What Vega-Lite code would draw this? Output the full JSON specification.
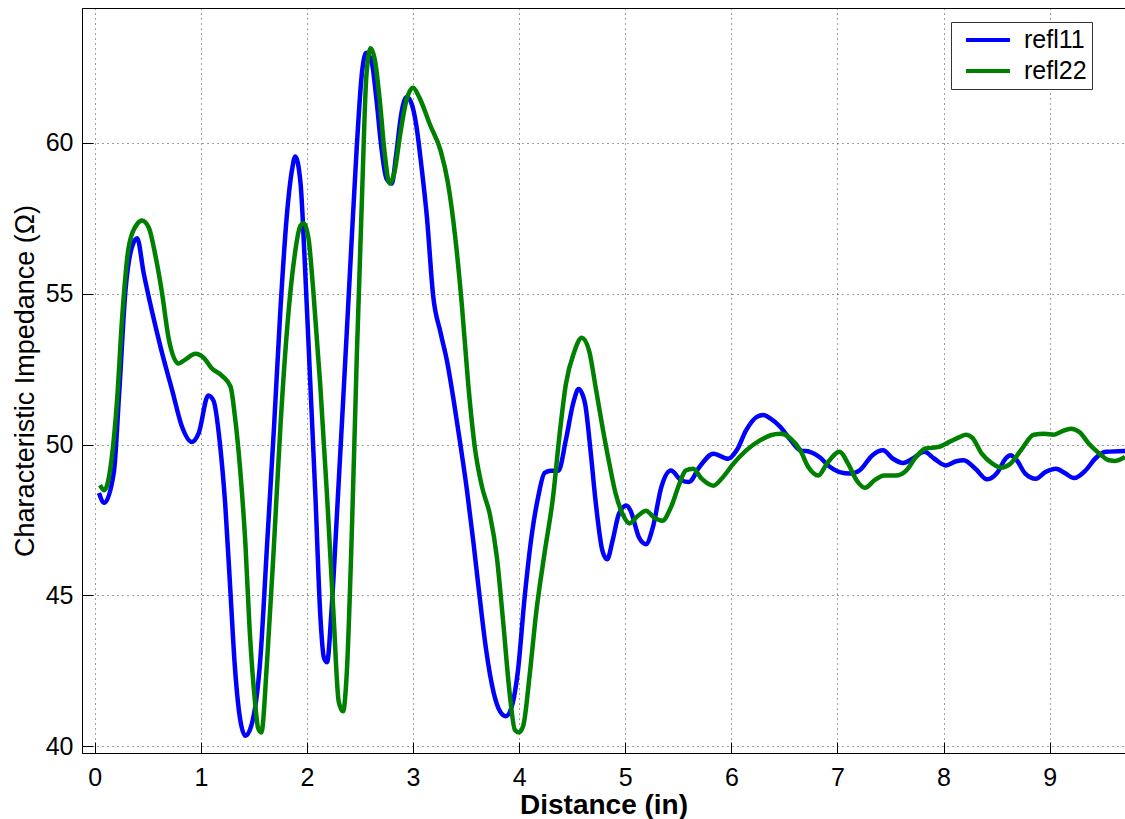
{
  "$schema": "https://vega.github.io/schema/vega-lite/v6.json",
  "width": 1043,
  "height": 745,
  "autosize": {"type": "none"},
  "padding": {"left": 82, "top": 8, "right": 0, "bottom": 66},
  "background": "white",
  "config": {
    "view": {"stroke": "#000", "strokeWidth": 1},
    "font": "Liberation Sans",
    "axis": {
      "domainColor": "#000",
      "tickColor": "#000",
      "gridColor": "#000",
      "gridDash": [1, 4],
      "gridOpacity": 0.75,
      "gridWidth": 1,
      "labelColor": "#000",
      "titleColor": "#000",
      "labelFont": "Liberation Sans",
      "titleFont": "Liberation Sans",
      "labelFontSize": 25,
      "tickSize": -11,
      "tickWidth": 1
    }
  },
  "data": {
    "values": [
      {"d": 0.04, "z": 48.4, "s": "refl11"},
      {"d": 0.09, "z": 48.07, "s": "refl11"},
      {"d": 0.18, "z": 49.08, "s": "refl11"},
      {"d": 0.23, "z": 51.68, "s": "refl11"},
      {"d": 0.29, "z": 55.12, "s": "refl11"},
      {"d": 0.35, "z": 56.54, "s": "refl11"},
      {"d": 0.4, "z": 56.84, "s": "refl11"},
      {"d": 0.46, "z": 55.71, "s": "refl11"},
      {"d": 0.54, "z": 54.41, "s": "refl11"},
      {"d": 0.63, "z": 53.1, "s": "refl11"},
      {"d": 0.73, "z": 51.8, "s": "refl11"},
      {"d": 0.82, "z": 50.62, "s": "refl11"},
      {"d": 0.915, "z": 50.09, "s": "refl11"},
      {"d": 0.98, "z": 50.38, "s": "refl11"},
      {"d": 1.07, "z": 51.63, "s": "refl11"},
      {"d": 1.12, "z": 51.45, "s": "refl11"},
      {"d": 1.18, "z": 50.03, "s": "refl11"},
      {"d": 1.23, "z": 48.01, "s": "refl11"},
      {"d": 1.28, "z": 45.05, "s": "refl11"},
      {"d": 1.32, "z": 42.68, "s": "refl11"},
      {"d": 1.37, "z": 40.91, "s": "refl11"},
      {"d": 1.42, "z": 40.35, "s": "refl11"},
      {"d": 1.47, "z": 40.62, "s": "refl11"},
      {"d": 1.56, "z": 42.86, "s": "refl11"},
      {"d": 1.625, "z": 46.73, "s": "refl11"},
      {"d": 1.69, "z": 50.6, "s": "refl11"},
      {"d": 1.75, "z": 54.47, "s": "refl11"},
      {"d": 1.81, "z": 57.57, "s": "refl11"},
      {"d": 1.86, "z": 59.12, "s": "refl11"},
      {"d": 1.89, "z": 59.55, "s": "refl11"},
      {"d": 1.94, "z": 58.65, "s": "refl11"},
      {"d": 1.98, "z": 56.02, "s": "refl11"},
      {"d": 2.03, "z": 52.15, "s": "refl11"},
      {"d": 2.08, "z": 48.28, "s": "refl11"},
      {"d": 2.125, "z": 44.41, "s": "refl11"},
      {"d": 2.16, "z": 42.94, "s": "refl11"},
      {"d": 2.19, "z": 42.79, "s": "refl11"},
      {"d": 2.23, "z": 44.41, "s": "refl11"},
      {"d": 2.28, "z": 47.51, "s": "refl11"},
      {"d": 2.34, "z": 51.38, "s": "refl11"},
      {"d": 2.41, "z": 56.02, "s": "refl11"},
      {"d": 2.47, "z": 59.89, "s": "refl11"},
      {"d": 2.52, "z": 62.37, "s": "refl11"},
      {"d": 2.56, "z": 62.99, "s": "refl11"},
      {"d": 2.61, "z": 62.68, "s": "refl11"},
      {"d": 2.66, "z": 61.28, "s": "refl11"},
      {"d": 2.7, "z": 59.89, "s": "refl11"},
      {"d": 2.75, "z": 58.81, "s": "refl11"},
      {"d": 2.8, "z": 58.65, "s": "refl11"},
      {"d": 2.84, "z": 59.58, "s": "refl11"},
      {"d": 2.89, "z": 60.98, "s": "refl11"},
      {"d": 2.94, "z": 61.52, "s": "refl11"},
      {"d": 2.98, "z": 61.36, "s": "refl11"},
      {"d": 3.03, "z": 60.6, "s": "refl11"},
      {"d": 3.08, "z": 59.2, "s": "refl11"},
      {"d": 3.13, "z": 57.57, "s": "refl11"},
      {"d": 3.19, "z": 54.92, "s": "refl11"},
      {"d": 3.26, "z": 53.7, "s": "refl11"},
      {"d": 3.32, "z": 52.77, "s": "refl11"},
      {"d": 3.38, "z": 51.53, "s": "refl11"},
      {"d": 3.44, "z": 50.15, "s": "refl11"},
      {"d": 3.51, "z": 48.44, "s": "refl11"},
      {"d": 3.57, "z": 46.73, "s": "refl11"},
      {"d": 3.63, "z": 44.88, "s": "refl11"},
      {"d": 3.69, "z": 43.17, "s": "refl11"},
      {"d": 3.76, "z": 41.78, "s": "refl11"},
      {"d": 3.82, "z": 41.16, "s": "refl11"},
      {"d": 3.875, "z": 41.0, "s": "refl11"},
      {"d": 3.93, "z": 41.32, "s": "refl11"},
      {"d": 3.99, "z": 42.55, "s": "refl11"},
      {"d": 4.05, "z": 44.88, "s": "refl11"},
      {"d": 4.12, "z": 47.04, "s": "refl11"},
      {"d": 4.18, "z": 48.28, "s": "refl11"},
      {"d": 4.24, "z": 49.06, "s": "refl11"},
      {"d": 4.3, "z": 49.13, "s": "refl11"},
      {"d": 4.37, "z": 49.13, "s": "refl11"},
      {"d": 4.44, "z": 50.15, "s": "refl11"},
      {"d": 4.51, "z": 51.38, "s": "refl11"},
      {"d": 4.56, "z": 51.84, "s": "refl11"},
      {"d": 4.62, "z": 51.38, "s": "refl11"},
      {"d": 4.67, "z": 49.9, "s": "refl11"},
      {"d": 4.72, "z": 48.14, "s": "refl11"},
      {"d": 4.785, "z": 46.48, "s": "refl11"},
      {"d": 4.83, "z": 46.2, "s": "refl11"},
      {"d": 4.88, "z": 46.81, "s": "refl11"},
      {"d": 4.94, "z": 47.7, "s": "refl11"},
      {"d": 5.01, "z": 47.98, "s": "refl11"},
      {"d": 5.05, "z": 47.81, "s": "refl11"},
      {"d": 5.13, "z": 46.92, "s": "refl11"},
      {"d": 5.195, "z": 46.7, "s": "refl11"},
      {"d": 5.26, "z": 47.26, "s": "refl11"},
      {"d": 5.34, "z": 48.59, "s": "refl11"},
      {"d": 5.43, "z": 49.14, "s": "refl11"},
      {"d": 5.53, "z": 48.81, "s": "refl11"},
      {"d": 5.6, "z": 48.76, "s": "refl11"},
      {"d": 5.7, "z": 49.26, "s": "refl11"},
      {"d": 5.83, "z": 49.7, "s": "refl11"},
      {"d": 5.97, "z": 49.53, "s": "refl11"},
      {"d": 6.05, "z": 49.81, "s": "refl11"},
      {"d": 6.14, "z": 50.48, "s": "refl11"},
      {"d": 6.24, "z": 50.92, "s": "refl11"},
      {"d": 6.3, "z": 50.98, "s": "refl11"},
      {"d": 6.37, "z": 50.86, "s": "refl11"},
      {"d": 6.46, "z": 50.59, "s": "refl11"},
      {"d": 6.56, "z": 50.14, "s": "refl11"},
      {"d": 6.65, "z": 49.81, "s": "refl11"},
      {"d": 6.74, "z": 49.76, "s": "refl11"},
      {"d": 6.83, "z": 49.59, "s": "refl11"},
      {"d": 6.93, "z": 49.26, "s": "refl11"},
      {"d": 7.02, "z": 49.09, "s": "refl11"},
      {"d": 7.12, "z": 49.04, "s": "refl11"},
      {"d": 7.21, "z": 49.15, "s": "refl11"},
      {"d": 7.33, "z": 49.65, "s": "refl11"},
      {"d": 7.43, "z": 49.81, "s": "refl11"},
      {"d": 7.52, "z": 49.54, "s": "refl11"},
      {"d": 7.62, "z": 49.39, "s": "refl11"},
      {"d": 7.71, "z": 49.54, "s": "refl11"},
      {"d": 7.82, "z": 49.76, "s": "refl11"},
      {"d": 7.91, "z": 49.54, "s": "refl11"},
      {"d": 8.02, "z": 49.31, "s": "refl11"},
      {"d": 8.12, "z": 49.45, "s": "refl11"},
      {"d": 8.19, "z": 49.48, "s": "refl11"},
      {"d": 8.3, "z": 49.2, "s": "refl11"},
      {"d": 8.41, "z": 48.85, "s": "refl11"},
      {"d": 8.51, "z": 49.09, "s": "refl11"},
      {"d": 8.585, "z": 49.54, "s": "refl11"},
      {"d": 8.63, "z": 49.65, "s": "refl11"},
      {"d": 8.69, "z": 49.48, "s": "refl11"},
      {"d": 8.77, "z": 49.04, "s": "refl11"},
      {"d": 8.87, "z": 48.87, "s": "refl11"},
      {"d": 8.96, "z": 49.09, "s": "refl11"},
      {"d": 9.06, "z": 49.2, "s": "refl11"},
      {"d": 9.15, "z": 49.04, "s": "refl11"},
      {"d": 9.23, "z": 48.89, "s": "refl11"},
      {"d": 9.34, "z": 49.15, "s": "refl11"},
      {"d": 9.43, "z": 49.54, "s": "refl11"},
      {"d": 9.53, "z": 49.76, "s": "refl11"},
      {"d": 9.71, "z": 49.79, "s": "refl11"},
      {"d": 0.05, "z": 48.66, "s": "refl22"},
      {"d": 0.09, "z": 48.49, "s": "refl22"},
      {"d": 0.16, "z": 49.55, "s": "refl22"},
      {"d": 0.21, "z": 51.45, "s": "refl22"},
      {"d": 0.26, "z": 54.29, "s": "refl22"},
      {"d": 0.32, "z": 56.54, "s": "refl22"},
      {"d": 0.4, "z": 57.31, "s": "refl22"},
      {"d": 0.445, "z": 57.43, "s": "refl22"},
      {"d": 0.51, "z": 57.19, "s": "refl22"},
      {"d": 0.57, "z": 56.3, "s": "refl22"},
      {"d": 0.63, "z": 55.12, "s": "refl22"},
      {"d": 0.7, "z": 53.46, "s": "refl22"},
      {"d": 0.79, "z": 52.69, "s": "refl22"},
      {"d": 0.85, "z": 52.81, "s": "refl22"},
      {"d": 0.95, "z": 53.01, "s": "refl22"},
      {"d": 1.03, "z": 52.87, "s": "refl22"},
      {"d": 1.1, "z": 52.54, "s": "refl22"},
      {"d": 1.2, "z": 52.28, "s": "refl22"},
      {"d": 1.28, "z": 51.92, "s": "refl22"},
      {"d": 1.32, "z": 50.97, "s": "refl22"},
      {"d": 1.37, "z": 49.2, "s": "refl22"},
      {"d": 1.42, "z": 46.71, "s": "refl22"},
      {"d": 1.46, "z": 43.87, "s": "refl22"},
      {"d": 1.51, "z": 41.5, "s": "refl22"},
      {"d": 1.54, "z": 40.6, "s": "refl22"},
      {"d": 1.57, "z": 40.46, "s": "refl22"},
      {"d": 1.625, "z": 42.86, "s": "refl22"},
      {"d": 1.69, "z": 46.73, "s": "refl22"},
      {"d": 1.75, "z": 50.6, "s": "refl22"},
      {"d": 1.81, "z": 53.7, "s": "refl22"},
      {"d": 1.875, "z": 56.02, "s": "refl22"},
      {"d": 1.94, "z": 57.26, "s": "refl22"},
      {"d": 1.97, "z": 57.34, "s": "refl22"},
      {"d": 2.016, "z": 56.8, "s": "refl22"},
      {"d": 2.06, "z": 55.09, "s": "refl22"},
      {"d": 2.125, "z": 52.0, "s": "refl22"},
      {"d": 2.19, "z": 48.28, "s": "refl22"},
      {"d": 2.25, "z": 44.41, "s": "refl22"},
      {"d": 2.3, "z": 41.47, "s": "refl22"},
      {"d": 2.34, "z": 41.16, "s": "refl22"},
      {"d": 2.375, "z": 42.4, "s": "refl22"},
      {"d": 2.42, "z": 46.73, "s": "refl22"},
      {"d": 2.47, "z": 52.93, "s": "refl22"},
      {"d": 2.52, "z": 58.34, "s": "refl22"},
      {"d": 2.56, "z": 62.21, "s": "refl22"},
      {"d": 2.6, "z": 63.14, "s": "refl22"},
      {"d": 2.64, "z": 62.76, "s": "refl22"},
      {"d": 2.69, "z": 61.28, "s": "refl22"},
      {"d": 2.73, "z": 59.74, "s": "refl22"},
      {"d": 2.78, "z": 58.65, "s": "refl22"},
      {"d": 2.83, "z": 59.12, "s": "refl22"},
      {"d": 2.875, "z": 60.2, "s": "refl22"},
      {"d": 2.94, "z": 61.44, "s": "refl22"},
      {"d": 3.0, "z": 61.83, "s": "refl22"},
      {"d": 3.06, "z": 61.5, "s": "refl22"},
      {"d": 3.16, "z": 60.6, "s": "refl22"},
      {"d": 3.26, "z": 59.74, "s": "refl22"},
      {"d": 3.33, "z": 58.65, "s": "refl22"},
      {"d": 3.4, "z": 56.8, "s": "refl22"},
      {"d": 3.46, "z": 54.63, "s": "refl22"},
      {"d": 3.52, "z": 52.0, "s": "refl22"},
      {"d": 3.585, "z": 49.84, "s": "refl22"},
      {"d": 3.65, "z": 48.6, "s": "refl22"},
      {"d": 3.725, "z": 47.67, "s": "refl22"},
      {"d": 3.79, "z": 46.27, "s": "refl22"},
      {"d": 3.85, "z": 44.1, "s": "refl22"},
      {"d": 3.91, "z": 41.78, "s": "refl22"},
      {"d": 3.96, "z": 40.54, "s": "refl22"},
      {"d": 4.0, "z": 40.46, "s": "refl22"},
      {"d": 4.04, "z": 40.7, "s": "refl22"},
      {"d": 4.1, "z": 42.4, "s": "refl22"},
      {"d": 4.16, "z": 44.41, "s": "refl22"},
      {"d": 4.24, "z": 46.42, "s": "refl22"},
      {"d": 4.32, "z": 48.28, "s": "refl22"},
      {"d": 4.38, "z": 50.3, "s": "refl22"},
      {"d": 4.44, "z": 52.0, "s": "refl22"},
      {"d": 4.52, "z": 53.08, "s": "refl22"},
      {"d": 4.59, "z": 53.54, "s": "refl22"},
      {"d": 4.66, "z": 53.1, "s": "refl22"},
      {"d": 4.72, "z": 51.92, "s": "refl22"},
      {"d": 4.785, "z": 50.59, "s": "refl22"},
      {"d": 4.85, "z": 49.37, "s": "refl22"},
      {"d": 4.91, "z": 48.37, "s": "refl22"},
      {"d": 4.975, "z": 47.7, "s": "refl22"},
      {"d": 5.04, "z": 47.39, "s": "refl22"},
      {"d": 5.12, "z": 47.64, "s": "refl22"},
      {"d": 5.195, "z": 47.81, "s": "refl22"},
      {"d": 5.27, "z": 47.59, "s": "refl22"},
      {"d": 5.35, "z": 47.48, "s": "refl22"},
      {"d": 5.43, "z": 47.92, "s": "refl22"},
      {"d": 5.51, "z": 48.7, "s": "refl22"},
      {"d": 5.57, "z": 49.14, "s": "refl22"},
      {"d": 5.64, "z": 49.2, "s": "refl22"},
      {"d": 5.72, "z": 48.87, "s": "refl22"},
      {"d": 5.83, "z": 48.64, "s": "refl22"},
      {"d": 5.92, "z": 48.92, "s": "refl22"},
      {"d": 6.02, "z": 49.37, "s": "refl22"},
      {"d": 6.14, "z": 49.81, "s": "refl22"},
      {"d": 6.27, "z": 50.14, "s": "refl22"},
      {"d": 6.37, "z": 50.31, "s": "refl22"},
      {"d": 6.46, "z": 50.36, "s": "refl22"},
      {"d": 6.56, "z": 50.2, "s": "refl22"},
      {"d": 6.65, "z": 49.81, "s": "refl22"},
      {"d": 6.725, "z": 49.26, "s": "refl22"},
      {"d": 6.82, "z": 48.98, "s": "refl22"},
      {"d": 6.9, "z": 49.37, "s": "refl22"},
      {"d": 7.02, "z": 49.76, "s": "refl22"},
      {"d": 7.1, "z": 49.37, "s": "refl22"},
      {"d": 7.18, "z": 48.82, "s": "refl22"},
      {"d": 7.26, "z": 48.57, "s": "refl22"},
      {"d": 7.35, "z": 48.82, "s": "refl22"},
      {"d": 7.44, "z": 48.98, "s": "refl22"},
      {"d": 7.55, "z": 48.98, "s": "refl22"},
      {"d": 7.65, "z": 49.15, "s": "refl22"},
      {"d": 7.74, "z": 49.59, "s": "refl22"},
      {"d": 7.83, "z": 49.87, "s": "refl22"},
      {"d": 7.96, "z": 49.93, "s": "refl22"},
      {"d": 8.06, "z": 50.1, "s": "refl22"},
      {"d": 8.15, "z": 50.25, "s": "refl22"},
      {"d": 8.21, "z": 50.33, "s": "refl22"},
      {"d": 8.27, "z": 50.23, "s": "refl22"},
      {"d": 8.36, "z": 49.7, "s": "refl22"},
      {"d": 8.46, "z": 49.37, "s": "refl22"},
      {"d": 8.54, "z": 49.24, "s": "refl22"},
      {"d": 8.63, "z": 49.37, "s": "refl22"},
      {"d": 8.74, "z": 49.87, "s": "refl22"},
      {"d": 8.85, "z": 50.33, "s": "refl22"},
      {"d": 8.95, "z": 50.36, "s": "refl22"},
      {"d": 9.04, "z": 50.33, "s": "refl22"},
      {"d": 9.12, "z": 50.45, "s": "refl22"},
      {"d": 9.2, "z": 50.53, "s": "refl22"},
      {"d": 9.28, "z": 50.42, "s": "refl22"},
      {"d": 9.37, "z": 50.03, "s": "refl22"},
      {"d": 9.47, "z": 49.7, "s": "refl22"},
      {"d": 9.56, "z": 49.48, "s": "refl22"},
      {"d": 9.62, "z": 49.46, "s": "refl22"},
      {"d": 9.71, "z": 49.59, "s": "refl22"}
    ]
  },
  "mark": {"type": "line", "strokeWidth": 4.5, "interpolate": "monotone", "clip": true},
  "encoding": {
    "x": {
      "field": "d",
      "type": "quantitative",
      "scale": {"domain": [-0.12, 9.71], "nice": false, "zero": false},
      "axis": {
        "values": [0, 1, 2, 3, 4, 5, 6, 7, 8, 9],
        "title": "Distance (in)",
        "titleFontSize": 28,
        "titleFontWeight": "bold",
        "titleBaseline": "alphabetic",
        "titleY": 60,
        "labelPadding": 23
      }
    },
    "y": {
      "field": "z",
      "type": "quantitative",
      "scale": {"domain": [39.78, 64.47], "nice": false, "zero": false},
      "axis": {
        "values": [40, 45, 50, 55, 60],
        "title": "Characteristic Impedance (Ω)",
        "titleFontSize": 27,
        "titleFontWeight": "normal",
        "titleBaseline": "alphabetic",
        "titleX": -49,
        "labelPadding": 20
      }
    },
    "color": {
      "field": "s",
      "type": "nominal",
      "scale": {"domain": ["refl11", "refl22"], "range": ["#0000ff", "#008000"]},
      "legend": {
        "title": null,
        "orient": "none",
        "legendX": 869,
        "legendY": 14,
        "fillColor": "white",
        "strokeColor": "#333",
        "padding": 5,
        "rowPadding": 5,
        "symbolType": "M-0.27,0L3.73,0",
        "symbolSize": 484,
        "symbolStrokeWidth": 4,
        "labelFontSize": 25,
        "labelFont": "Liberation Sans",
        "labelColor": "#000",
        "labelOffset": 42,
        "labelExpr": "datum.label + '\u00a0\u00a0\u00a0'"
      }
    }
  }
}
